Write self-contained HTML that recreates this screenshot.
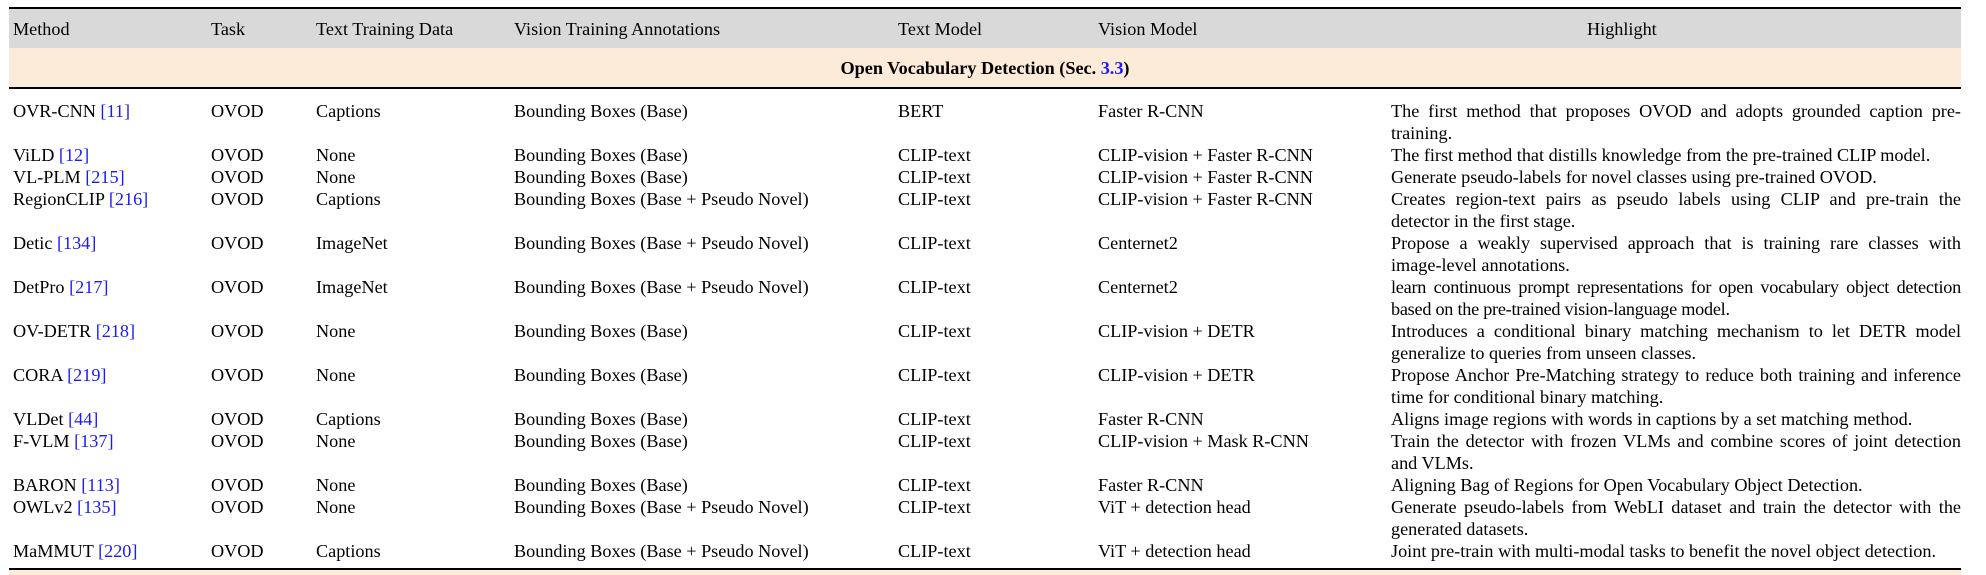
<!DOCTYPE html>
<html><head><meta charset="utf-8"><style>
body{margin:0;width:1986px;height:575px;background:#fff;overflow:hidden;position:relative;font-family:"Liberation Serif",serif;font-size:18.2px;color:#000}
.a{position:absolute;white-space:nowrap;line-height:22px}
.r{position:absolute;left:9px;width:1952px;background:#000}
.hl{position:absolute;left:1391px;width:570px;line-height:22px;text-align:justify}
a{color:#1a1aff;text-decoration:none}
</style></head><body>
<div class="r" style="top:7px;height:2px"></div>
<div style="position:absolute;left:9px;top:9px;width:1952px;height:39px;background:#d9d9d9">
 <div class="a" style="left:4px;top:9px">Method</div>
 <div class="a" style="left:202px;top:9px">Task</div>
 <div class="a" style="left:307px;top:9px">Text Training Data</div>
 <div class="a" style="left:505px;top:9px">Vision Training Annotations</div>
 <div class="a" style="left:889px;top:9px">Text Model</div>
 <div class="a" style="left:1089px;top:9px">Vision Model</div>
 <div class="a" style="left:1578px;top:9px">Highlight</div>
</div>
<div style="position:absolute;left:9px;top:48px;width:1952px;height:39px;background:#fdebd9">
 <div class="a" style="left:0;width:1952px;text-align:center;top:9px;font-weight:bold">Open Vocabulary Detection (Sec. <a>3.3</a>)</div>
</div>
<div class="r" style="top:87px;height:2px"></div>
<div id="rows"></div>
<div class="r" style="top:568px;height:2px"></div>
<div style="position:absolute;left:9px;top:570px;width:1952px;height:5px;background:#fdebd9"></div>
<script>
const rows=[
["OVR-CNN","11","Captions","Bounding Boxes (Base)","BERT","Faster R-CNN","The first method that proposes OVOD and adopts grounded caption pre-training.",0],
["ViLD","12","None","Bounding Boxes (Base)","CLIP-text","CLIP-vision + Faster R-CNN","The first method that distills knowledge from the pre-trained CLIP model.",2],
["VL-PLM","215","None","Bounding Boxes (Base)","CLIP-text","CLIP-vision + Faster R-CNN","Generate pseudo-labels for novel classes using pre-trained OVOD.",3],
["RegionCLIP","216","Captions","Bounding Boxes (Base + Pseudo Novel)","CLIP-text","CLIP-vision + Faster R-CNN","Creates region-text pairs as pseudo labels using CLIP and pre-train the detector in the first stage.",4],
["Detic","134","ImageNet","Bounding Boxes (Base + Pseudo Novel)","CLIP-text","Centernet2","Propose a weakly supervised approach that is training rare classes with image-level annotations.",6],
["DetPro","217","ImageNet","Bounding Boxes (Base + Pseudo Novel)","CLIP-text","Centernet2","learn continuous prompt representations for open vocabulary object detection based on the pre-trained vision-language model.",8],
["OV-DETR","218","None","Bounding Boxes (Base)","CLIP-text","CLIP-vision + DETR","Introduces a conditional binary matching mechanism to let DETR model generalize to queries from unseen classes.",10],
["CORA","219","None","Bounding Boxes (Base)","CLIP-text","CLIP-vision + DETR","Propose Anchor Pre-Matching strategy to reduce both training and inference time for conditional binary matching.",12],
["VLDet","44","Captions","Bounding Boxes (Base)","CLIP-text","Faster R-CNN","Aligns image regions with words in captions by a set matching method.",14],
["F-VLM","137","None","Bounding Boxes (Base)","CLIP-text","CLIP-vision + Mask R-CNN","Train the detector with frozen VLMs and combine scores of joint detection and VLMs.",15],
["BARON","113","None","Bounding Boxes (Base)","CLIP-text","Faster R-CNN","Aligning Bag of Regions for Open Vocabulary Object Detection.",17],
["OWLv2","135","None","Bounding Boxes (Base + Pseudo Novel)","CLIP-text","ViT + detection head","Generate pseudo-labels from WebLI dataset and train the detector with the generated datasets.",18],
["MaMMUT","220","Captions","Bounding Boxes (Base + Pseudo Novel)","CLIP-text","ViT + detection head","Joint pre-train with multi-modal tasks to benefit the novel object detection.",20]];
const xs=[13,211,316,514,898,1098];
const box=document.getElementById('rows');
rows.forEach(r=>{
 const y=100+22*r[7];
 const cells=[r[0]+' <a>['+r[1]+']</a>','OVOD',r[2],r[3],r[4],r[5]];
 const names=['method','task','text-data','vision-annotations','text-model','vision-model'];
 cells.forEach((c,i)=>{
  const d=document.createElement('div');d.className='a';
  d.style.left=xs[i]+'px';d.style.top=y+'px';d.innerHTML=c;
  
  
  box.appendChild(d);
 });
 const h=document.createElement('div');h.className='hl';h.style.top=y+'px';h.textContent=r[6];
 if(r[0]==='DetPro'){h.style.letterSpacing='-0.25px';}
 
 
 box.appendChild(h);
});
</script>
</body></html>
